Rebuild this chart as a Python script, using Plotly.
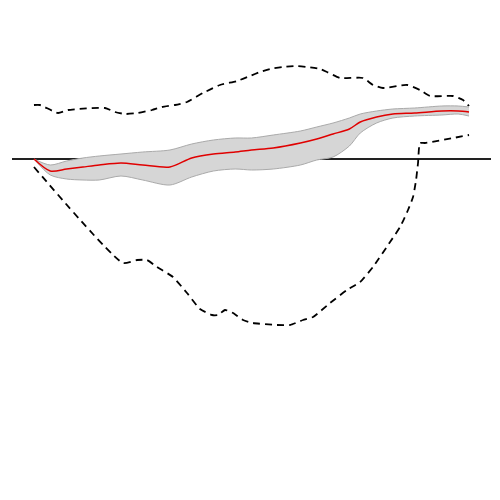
import plotly.graph_objects as go

# horizon grid for the point estimate and its shaded band
horizon = [0, 1.5, 3, 4.5, 6, 8, 10, 12.5, 14.5, 16.5, 18.5, 20, 22, 24.5,
           26, 27.5, 29, 30, 31.5, 33, 35, 37.5, 39, 40]
response = [0.0, -0.12, -0.10, -0.08, -0.06, -0.04, -0.06, -0.08, 0.01, 0.05,
            0.07, 0.09, 0.11, 0.16, 0.20, 0.25, 0.30, 0.37, 0.42, 0.45, 0.46,
            0.48, 0.48, 0.47]
band_hi = [0.0, -0.06, -0.02, 0.01, 0.03, 0.05, 0.07, 0.09, 0.15, 0.19, 0.21,
           0.21, 0.24, 0.28, 0.32, 0.36, 0.41, 0.45, 0.48, 0.50, 0.51, 0.53,
           0.53, 0.52]
band_lo = [0.0, -0.16, -0.20, -0.21, -0.21, -0.17, -0.21, -0.26, -0.18, -0.12,
           -0.10, -0.11, -0.10, -0.06, -0.01, 0.02, 0.13, 0.26, 0.36, 0.41,
           0.43, 0.44, 0.45, 0.43]

# outer dashed bounds
upper_x = [0, 0.55, 2.21, 3.13, 6.53, 7.45, 8.37, 9.56, 10.85, 11.77, 12.97,
           14.07, 15.54, 17.10, 18.67, 19.86, 20.78, 21.70, 22.90, 24.18,
           25.10, 26.30, 26.94, 28.14, 30.25, 31.17, 32.09, 34.30, 35.49,
           36.41, 38.53, 39.45, 40]
upper_y = [0.54, 0.54, 0.46, 0.49, 0.51, 0.47, 0.45, 0.46, 0.49, 0.52, 0.54,
           0.57, 0.66, 0.74, 0.78, 0.83, 0.87, 0.90, 0.92, 0.93, 0.92, 0.90,
           0.87, 0.81, 0.81, 0.74, 0.71, 0.74, 0.69, 0.63, 0.63, 0.59, 0.53]
lower_x = [0, 8.18, 9.47, 10.39, 11.31, 12.78, 14.07, 15.26, 16.37, 16.92,
           17.56, 18.30, 19.22, 20.14, 22.34, 23.54, 24.74, 25.66, 27.22,
           28.78, 29.98, 31.17, 32.74, 33.66, 34.39, 34.85, 35.13, 35.31,
           35.49, 35.95, 40]
lower_y = [-0.08, -1.04, -1.01, -1.01, -1.08, -1.18, -1.34, -1.50, -1.56,
           -1.56, -1.51, -1.54, -1.61, -1.64, -1.66, -1.66, -1.61, -1.58,
           -1.44, -1.31, -1.23, -1.08, -0.83, -0.68, -0.51, -0.38, -0.21,
           -0.04, 0.16, 0.16, 0.24]

fig = go.Figure()

dash_style = dict(color='black', width=1.8, dash='7px,5px',
                  shape='spline', smoothing=0.5)
fig.add_trace(go.Scatter(x=upper_x, y=upper_y, mode='lines', line=dash_style))
fig.add_trace(go.Scatter(x=lower_x, y=lower_y, mode='lines', line=dash_style))

# shaded band between lower and upper edges
band_edge = dict(color='#aaaaaa', width=1, shape='spline', smoothing=0.8)
fig.add_trace(go.Scatter(x=horizon, y=band_lo, mode='lines', line=band_edge))
fig.add_trace(go.Scatter(x=horizon, y=band_hi, mode='lines', fill='tonexty',
                         fillcolor='#d6d6d6', line=band_edge))

fig.add_trace(go.Scatter(x=horizon, y=response, mode='lines',
                         line=dict(color='#e00000', width=1.5,
                                   shape='spline', smoothing=0.8)))

# page body has an 8px margin, so the figure is a bit smaller than the window
fig.update_layout(
    width=484, height=484,
    showlegend=False,
    plot_bgcolor='white', paper_bgcolor='white',
    margin=dict(l=4, r=1, t=0, b=0),
    xaxis=dict(range=[-2.02, 42.02], visible=False, showgrid=False),
    yaxis=dict(range=[-3.33, 1.51], showgrid=False, showticklabels=False,
               showline=False, ticks='', zeroline=True,
               zerolinecolor='#222222', zerolinewidth=1.6),
)

fig.write_html("out.html")
